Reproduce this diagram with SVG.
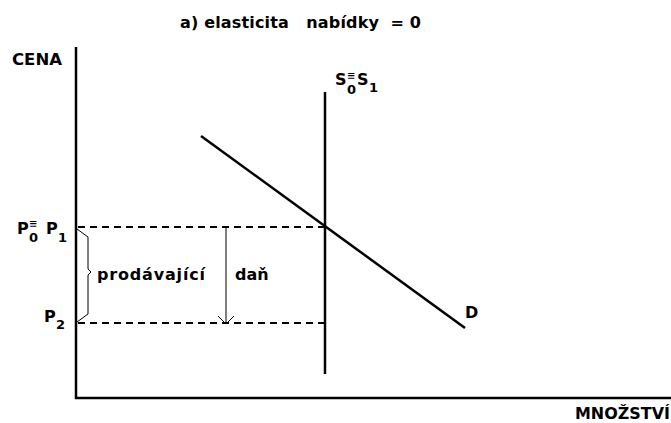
<svg xmlns="http://www.w3.org/2000/svg" width="671" height="423" viewBox="0 0 671 423">
<style>
text{font-family:"DejaVu Sans","Liberation Sans",sans-serif;font-weight:bold;font-size:16px;fill:#000;white-space:pre}
.ax{stroke:#000;stroke-width:2.5;fill:none}
.dash{stroke:#000;stroke-width:2;stroke-dasharray:7,5;fill:none}
.thin{stroke:#000;stroke-width:1;fill:none}
.sub{font-size:13px}
.eq{font-size:10px}
</style>
<rect width="671" height="423" fill="#fff"/>
<text x="180" y="28" textLength="241" lengthAdjust="spacing" xml:space="preserve">a) elasticita   nabídky  = 0</text>
<g id="axes">
<path class="ax" d="M76,47 V398 H671"/>
<text x="12" y="65" textLength="50" lengthAdjust="spacingAndGlyphs">CENA</text>
<text x="575" y="419" textLength="95" lengthAdjust="spacingAndGlyphs">MNOŽSTVÍ</text>
</g>
<g id="connectors">
<path class="dash" d="M78,227 H325"/>
<path class="dash" d="M78,323 H325"/>
<path class="thin" d="M77,229 L88,237 V269 L91,272 L88,275 V314 L77,322"/>
<path class="thin" d="M226,228 V323 M218,316 L226,324 L234,316"/>
</g>
<g id="supply">
<path class="ax" d="M325,92 V374"/>
<text x="335" y="85">S<tspan class="sub" x="347" y="94">0</tspan><tspan class="eq" x="347" y="79">≡</tspan><tspan x="357" y="85">S</tspan><tspan class="sub" x="369" y="92">1</tspan></text>
</g>
<g id="demand">
<path class="ax" d="M201,136 L465,328"/>
<text x="465" y="318">D</text>
</g>
<g id="labels">
<text x="17" y="234">P<tspan class="sub" x="29" y="242">0</tspan><tspan class="eq" x="29" y="227">≡</tspan><tspan x="46" y="234">P</tspan><tspan class="sub" x="58" y="242">1</tspan></text>
<text x="44" y="322">P<tspan class="sub" x="56" y="329">2</tspan></text>
<text x="97" y="280" textLength="108" lengthAdjust="spacing">prodávající</text>
<text x="235" y="280">daň</text>
</g>
</svg>
